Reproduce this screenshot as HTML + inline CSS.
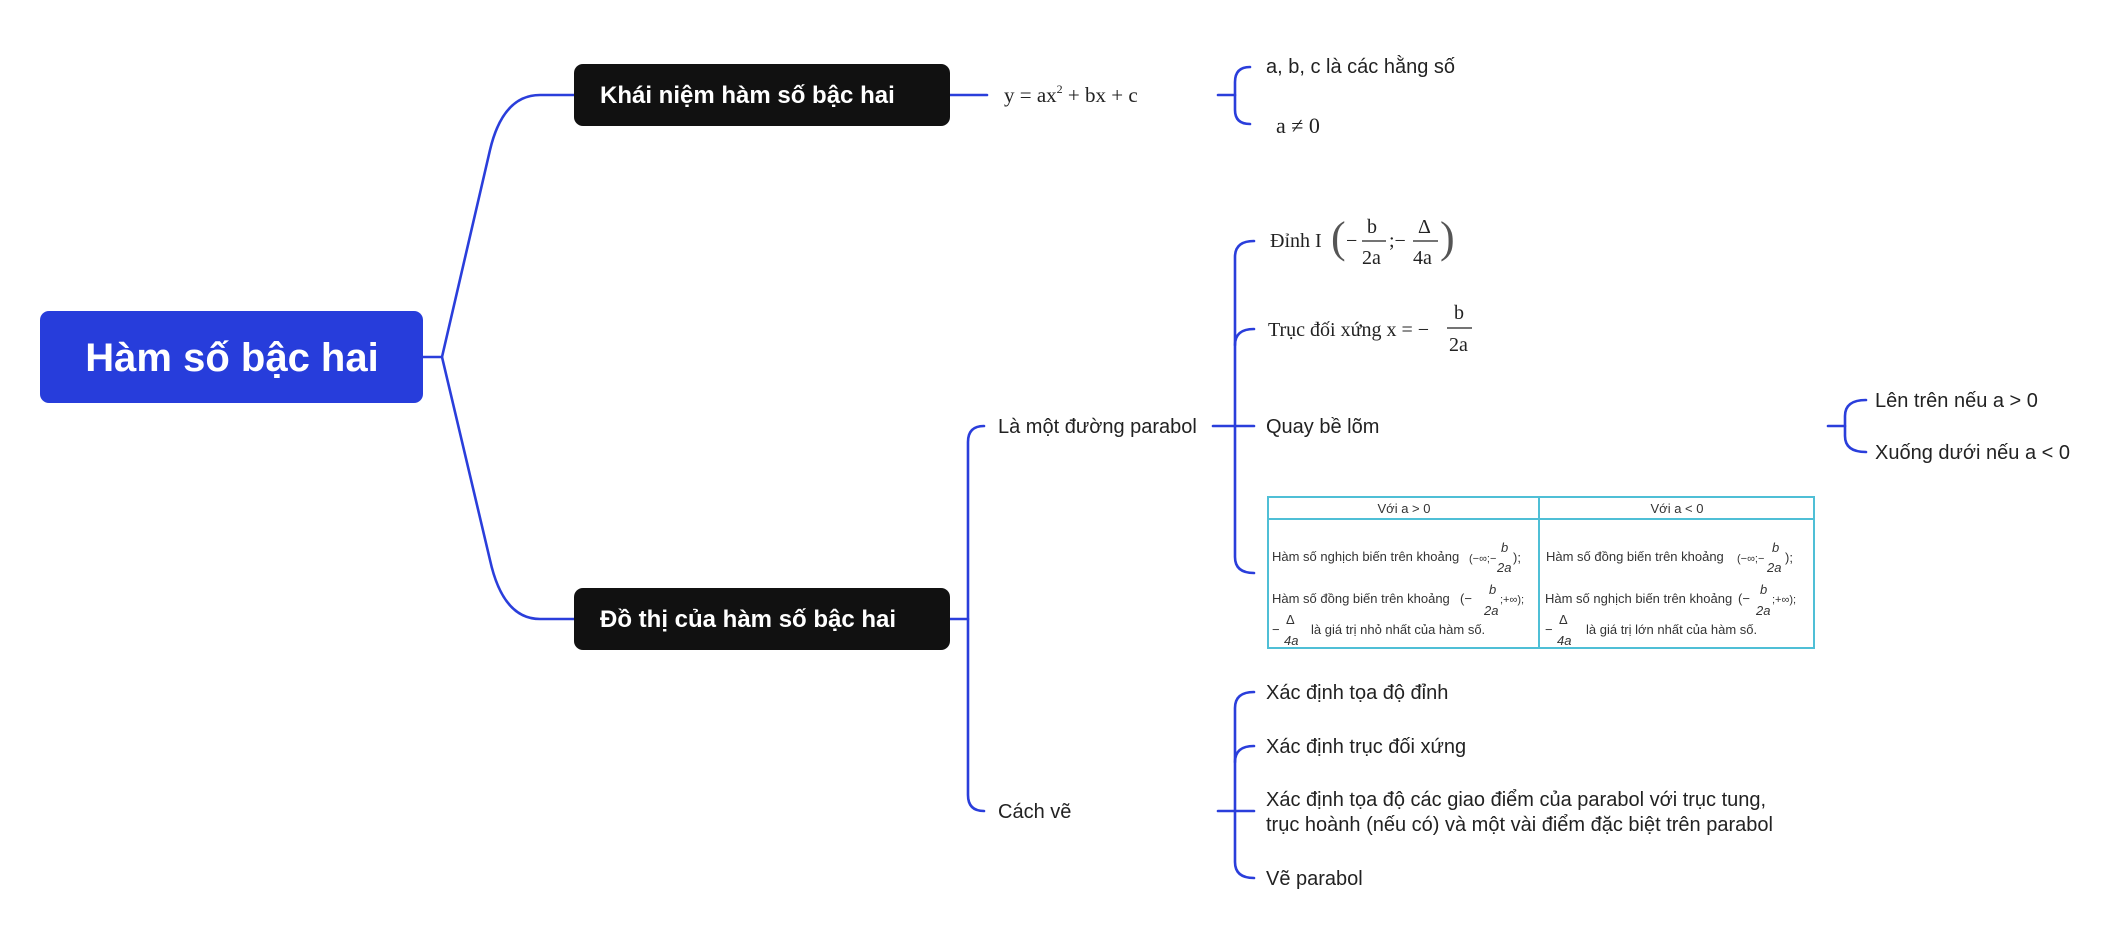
<!DOCTYPE html>
<html><head><meta charset="utf-8"><style>
html,body{margin:0;padding:0;background:#fff;}
svg{display:block;}
.s{font-family:"Liberation Sans",sans-serif;}
.r{font-family:"Liberation Serif",serif;}
</style></head><body>
<svg width="2117" height="933" viewBox="0 0 2117 933" xmlns="http://www.w3.org/2000/svg">
<g fill="none" stroke="#2a3edb" stroke-width="2.6" stroke-linecap="round">
<!-- root connectors -->
<path d="M423 357 H442 L490 150 Q503 95 540 95 H574"/>
<path d="M442 357 L490 560 Q503 619 540 619 H574"/>
<!-- khai niem -> formula -->
<path d="M950 95 H987"/>
<!-- bracket a,b,c -->
<path d="M1218 95 H1235"/>
<path d="M1250 67 Q1235 67 1235 82 V110 Q1235 124 1250 124"/>
<!-- do thi -> children -->
<path d="M950 619 H968"/>
<path d="M984 426 Q968 426 968 442 V795 Q968 811 984 811"/>
<!-- la mot duong parabol bracket -->
<path d="M1213 426 H1254"/>
<path d="M1254 241 Q1235 241 1235 257 V557 Q1235 573 1254 573"/>
<path d="M1254 329 Q1235 329 1235 345"/>
<!-- quay be lom bracket -->
<path d="M1828 426 H1845"/>
<path d="M1866 400 Q1845 400 1845 416 V436 Q1845 452 1866 452"/>
<!-- cach ve bracket -->
<path d="M1218 811 H1254"/>
<path d="M1254 692 Q1235 692 1235 708 V862 Q1235 878 1254 878"/>
<path d="M1254 746 Q1235 746 1235 762"/>
</g>

<!-- nodes -->
<rect x="40" y="311" width="383" height="92" rx="9" fill="#273ddb"/>
<text x="232" y="371" text-anchor="middle" class="s" font-size="40" font-weight="bold" fill="#fff">Hàm số bậc hai</text>
<rect x="574" y="64" width="376" height="62" rx="9" fill="#111"/>
<text x="600" y="103" class="s" font-size="24" font-weight="bold" fill="#fff">Khái niệm hàm số bậc hai</text>
<rect x="574" y="588" width="376" height="62" rx="9" fill="#111"/>
<text x="600" y="627" class="s" font-size="24" font-weight="bold" fill="#fff">Đồ thị của hàm số bậc hai</text>

<!-- formula -->
<text x="1004" y="102" class="r" font-size="21" fill="#222">y = ax<tspan dy="-9" font-size="12">2</tspan><tspan dy="9"> + bx + c</tspan></text>

<g class="s" font-size="20" fill="#222">
<text x="1266" y="73">a, b, c là các hằng số</text>
<text x="998" y="433">Là một đường parabol</text>
<text x="998" y="818">Cách vẽ</text>
<text x="1266" y="433">Quay bề lõm</text>
<text x="1875" y="407">Lên trên nếu a &gt; 0</text>
<text x="1875" y="459">Xuống dưới nếu a &lt; 0</text>
<text x="1266" y="699">Xác định tọa độ đỉnh</text>
<text x="1266" y="753">Xác định trục đối xứng</text>
<text x="1266" y="806">Xác định tọa độ các giao điểm của parabol với trục tung,</text>
<text x="1266" y="831">trục hoành (nếu có) và một vài điểm đặc biệt trên parabol</text>
<text x="1266" y="885">Vẽ parabol</text>
</g>
<text x="1276" y="133" class="r" font-size="22" fill="#222">a ≠ 0</text>

<!-- Dinh -->
<g class="r" fill="#222" font-size="20">
<text x="1270" y="247">Đỉnh  I</text>
<text x="1331" y="252" font-size="44" font-weight="100" fill="#555">(</text>
<text x="1346" y="247">−</text>
<text x="1367" y="233">b</text>
<line x1="1362" y1="241" x2="1386" y2="241" stroke="#222" stroke-width="1.2"/>
<text x="1362" y="264">2a</text>
<text x="1389" y="247">;−</text>
<text x="1418" y="233">Δ</text>
<line x1="1413" y1="241" x2="1438" y2="241" stroke="#222" stroke-width="1.2"/>
<text x="1413" y="264">4a</text>
<text x="1440" y="252" font-size="44" fill="#555">)</text>
<!-- truc -->
<text x="1268" y="336">Trục đối xứng  x = −</text>
<text x="1454" y="319">b</text>
<line x1="1447" y1="328" x2="1472" y2="328" stroke="#222" stroke-width="1.2"/>
<text x="1449" y="351">2a</text>
</g>

<!-- table -->
<g>
<rect x="1268" y="497" width="546" height="151" fill="#fff" stroke="#4fbfd6" stroke-width="2"/>
<line x1="1268" y1="519" x2="1814" y2="519" stroke="#4fbfd6" stroke-width="2"/>
<line x1="1539" y1="497" x2="1539" y2="648" stroke="#4fbfd6" stroke-width="2"/>
<g class="s" font-size="13" fill="#333">
<text x="1404" y="513" text-anchor="middle">Với a &gt; 0</text>
<text x="1677" y="513" text-anchor="middle">Với a &lt; 0</text>
<text x="1272" y="561">Hàm số nghịch biến trên khoảng</text>
<text x="1469" y="562" font-size="11">(−∞;−</text>
<text x="1501" y="552" font-style="italic">b</text><text x="1497" y="572" font-style="italic">2a</text>
<text x="1513" y="562">);</text>
<text x="1272" y="603">Hàm số đồng biến trên khoảng</text>
<text x="1460" y="603">(−</text>
<text x="1489" y="594" font-style="italic">b</text><text x="1484" y="615" font-style="italic">2a</text>
<text x="1500" y="603" font-size="11">;+∞);</text>
<text x="1272" y="634">−</text>
<text x="1286" y="624">Δ</text><text x="1284" y="645" font-style="italic">4a</text>
<text x="1311" y="634">là giá trị nhỏ nhất của hàm số.</text>
<text x="1546" y="561">Hàm số đồng biến trên khoảng</text>
<text x="1737" y="562" font-size="11">(−∞;−</text>
<text x="1772" y="552" font-style="italic">b</text><text x="1767" y="572" font-style="italic">2a</text>
<text x="1785" y="562">);</text>
<text x="1545" y="603">Hàm số nghịch biến trên khoảng</text>
<text x="1738" y="603">(−</text>
<text x="1760" y="594" font-style="italic">b</text><text x="1756" y="615" font-style="italic">2a</text>
<text x="1772" y="603" font-size="11">;+∞);</text>
<text x="1545" y="634">−</text>
<text x="1559" y="624">Δ</text><text x="1557" y="645" font-style="italic">4a</text>
<text x="1586" y="634">là giá trị lớn nhất của hàm số.</text>
</g>
</g>
</svg>
</body></html>
